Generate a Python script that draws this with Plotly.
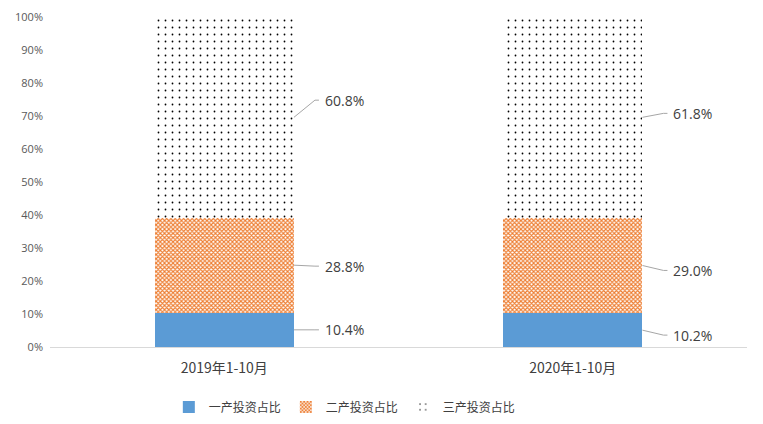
import plotly.graph_objects as go

categories = ["2019年1-10月", "2020年1-10月"]
series_names = ["一产投资占比", "二产投资占比", "三产投资占比"]
primary = [10.4, 10.2]
secondary = [28.8, 29.0]
tertiary = [60.8, 61.8]
y_ticks = list(range(0, 101, 10))

series_values = [primary, secondary, tertiary]
# label vertical nudges (in axis % units), style only
label_nudge = [[0.0, -1.5], [-0.3, -1.5], [5.2, 1.2]]

fig = go.Figure()
fig.add_trace(go.Bar(x=categories, y=primary, name=series_names[0],
                     marker=dict(color="#5B9BD5", line=dict(width=0))))
fig.add_trace(go.Bar(x=categories, y=secondary, name=series_names[1],
                     marker=dict(color="white", line=dict(width=0),
                                 pattern=dict(shape="x", fgcolor="#ED7D31", bgcolor="white",
                                              size=3, solidity=0.6, fillmode="replace"))))
fig.add_trace(go.Bar(x=categories, y=tertiary, name=series_names[2],
                     marker=dict(color="white", line=dict(width=0),
                                 pattern=dict(shape=".", fgcolor="black", bgcolor="white",
                                              size=7, solidity=0.05, fillmode="replace"))))

half = 0.2
px_per_cat = 697 / 2.0
lead = 25 / px_per_cat
for ci, cat in enumerate(categories):
    base = 0.0
    for si, vals in enumerate(series_values):
        v = vals[ci]
        top = min(base + v, 100)
        mid = (base + top) / 2
        ly = mid + label_nudge[si][ci]
        x0 = ci + half
        x1 = x0 + lead
        fig.add_shape(type="path",
                      path=f"M {x0} {mid} L {x1 - 4/px_per_cat} {ly} L {x1} {ly}",
                      xref="x", yref="y", line=dict(color="#A6A6A6", width=1))
        fig.add_annotation(x=x1, y=ly, xref="x", yref="y", text=f"{v:.1f}%",
                           showarrow=False, xanchor="left", yanchor="middle", xshift=4,
                           font=dict(size=14, color="#404040", family="Open Sans"))
        base += v

fig.update_layout(
    barmode="stack", bargap=0.6,
    width=755, height=416,
    margin=dict(l=42, r=16, t=9, b=77, autoexpand=False),
    plot_bgcolor="white", paper_bgcolor="white",
    font=dict(family="Noto Sans CJK SC", color="#595959"),
    legend=dict(orientation="h", x=0.423, xanchor="center",
                yref="container", y=0.041, yanchor="middle",
                font=dict(size=12, color="#404040"), traceorder="normal",
                itemwidth=30, tracegroupgap=0),
    showlegend=True,
)
fig.update_xaxes(type="category", range=[-0.5, 1.5], showline=True, linecolor="#D9D9D9",
                 linewidth=1, ticks="", tickfont=dict(size=14, color="#404040"),
                 showgrid=False, automargin=False, ticklabelstandoff=8)
fig.update_yaxes(range=[0, 100], tickvals=y_ticks, ticktext=[f"{t}%" for t in y_ticks],
                 showgrid=False, zeroline=False, showline=False, automargin=False,
                 tickfont=dict(size=11, color="#595959", family="Open Sans"), ticklabelstandoff=6)

fig.write_html("out.html")
